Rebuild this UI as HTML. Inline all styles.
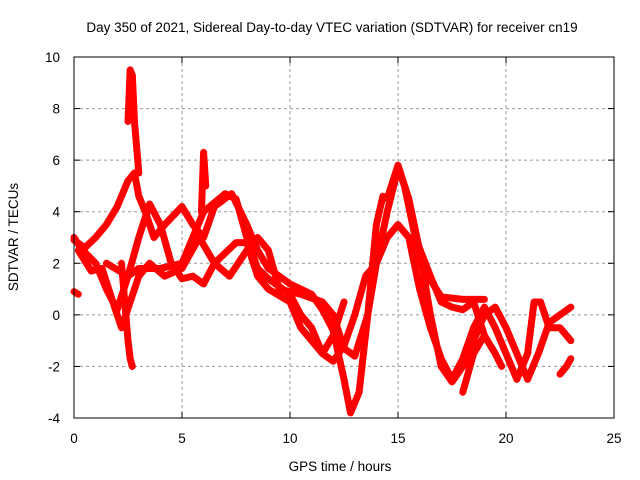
<!DOCTYPE html>
<html><head><meta charset="utf-8"><style>
body{margin:0;background:#fff;}
svg{display:block;font-family:"Liberation Sans",sans-serif;}
</style></head><body>
<svg id="chart" width="640" height="480">
<rect width="640" height="480" fill="#fff"/>
<text x="332" y="32" font-size="13.5" text-anchor="middle">Day 350 of 2021, Sidereal Day-to-day VTEC variation (SDTVAR) for receiver cn19</text>
<text x="340" y="471" font-size="13.5" text-anchor="middle">GPS time / hours</text>
<text transform="translate(18,237) rotate(-90)" font-size="13.5" text-anchor="middle">SDTVAR / TECUs</text>
<g id="grid"></g><g id="ticks"></g><g id="series"></g>
<rect x="74" y="57" width="540" height="361" fill="none" stroke="#000" stroke-width="1"/>
</svg>
<script>
const xTicks=[0,5,10,15,20,25];
const yTicks=[-4,-2,0,2,4,6,8,10];
const traceA=[[0,2.9],[0.5,2.6],[1,3],[1.5,3.5],[2,4.2],[2.5,5.2],[2.8,5.5],[3,4.6],[3.3,4],[3.7,3],[4.2,3.5],[5,4.2],[5.5,3.5],[6,3],[6.5,4.2],[7.3,4.7],[8,3.5],[8.5,2.5],[9,1.8],[10,1.2],[11,0.8],[11.5,0.2],[12,-0.6],[12.5,-2.5],[12.8,-3.8],[13.2,-3],[13.6,0],[14,3.5],[14.3,4.6]];
const traceA2=[[14.5,4.5],[15,5.8],[15.5,4.5],[16,2.5],[16.5,0],[17,-2],[17.5,-2.6],[18,-2],[18.5,-1],[19,0],[19.5,0.3],[20,-0.5],[20.5,-1.5],[21,-2.5],[21.5,-1.5],[22,-0.3],[23,0.3]];
const traceB=[[0,3],[0.3,2.6],[1,2],[1.5,1],[2,0.2],[2.5,1.5],[3,3],[3.5,4.3],[4,3.5],[4.5,2],[5,1.4],[5.5,1.5],[6,1.2],[6.5,2],[7,2.4],[7.5,2.8],[8,2.8],[8.5,1.5],[9,1],[10,0.5],[10.5,-0.5],[11,-1],[11.5,-1.5],[12,-1.8],[12.5,-1.2],[13,0],[13.5,1.5],[14,2],[14.5,3],[15,3.5],[15.5,3],[16,1],[16.5,-0.5],[17,-1.7],[17.5,-2.5],[18,-1.7],[18.5,-0.5],[19,0.3],[19.5,-0.5],[20,-1.5],[20.5,-2.5],[21,-1.5],[21.3,0.5],[21.6,0.5],[22,-0.5],[22.5,-0.5],[23,-1]];
const traceC=[[0.2,2.5],[0.8,1.7],[1.3,1.8],[1.8,0.5],[2.2,-0.5],[3,1.5],[3.5,2],[4.2,1.5],[5,1.8],[5.8,3],[6.5,2],[7.2,1.5],[8,2.5],[8.5,3],[9,2.5],[9.5,1],[10.5,0.8],[11.5,0.5],[12,0],[12.5,-1.3],[13,-1.6],[13.6,0],[14,2],[14.5,4],[14.8,5],[15,5.7],[15.3,5],[15.8,3],[16.5,1.5],[17,0.5],[17.5,0.3],[18,0.2],[18.5,0.5],[19,-0.8],[19.5,-1.5],[19.8,-2]];
const traceD=[[1.5,2],[2.5,1.5],[3,1.8],[4,1.8],[5,2],[5.5,3],[6,4],[7,4.7],[7.5,4.5],[8,3],[8.5,1.8],[9,1.4],[10,0.8],[10.5,0],[11,-0.5],[11.5,-1.5],[12,-0.8],[12.5,0.5]];
const traceE=[[15.5,3],[16,2],[17,0.7],[18,0.6],[19,0.6]];
const traceF=[[19,-0.8],[18.5,-1.5],[18,-3]];
const traceG=[[2.2,2],[2.5,-1],[2.6,-1.7],[2.7,-2]];
const spike1=[[2.5,7.5],[2.6,9.5],[2.7,9.3],[2.8,7.5],[3,5.5]];
const spike2=[[5.9,4],[6,6.3],[6.1,5]];
const seg1=[[0,0.9],[0.2,0.8]];
const seg2=[[22.5,-2.3],[22.8,-2],[23,-1.7]];
const allSeries=[traceA,traceA2,traceB,traceC,traceD,traceE,traceF,traceG,spike1,spike2,seg1,seg2];
const X=v=>74+v*540/25;
const Y=v=>57+(10-v)*361/14;
const NS="http://www.w3.org/2000/svg";
const grid=document.getElementById('grid'),ticks=document.getElementById('ticks'),ser=document.getElementById('series');
function mk(tag,attrs,parent){const e=document.createElementNS(NS,tag);for(const k in attrs)e.setAttribute(k,attrs[k]);parent.appendChild(e);return e;}
xTicks.forEach(t=>{
 if(t>0&&t<25){const g=mk('line',{x1:X(t),x2:X(t),y1:57,y2:418,stroke:'#999','stroke-dasharray':'3,3'},grid);
 
 }
 const l=mk('text',{x:X(t),y:443,'font-size':13.5,'text-anchor':'middle'},ticks);l.textContent=t;
 
 
 mk('line',{x1:X(t),x2:X(t),y1:418,y2:412,stroke:'#000'},ticks);
 mk('line',{x1:X(t),x2:X(t),y1:57,y2:63,stroke:'#000'},ticks);
});
yTicks.forEach(t=>{
 if(t>-4&&t<10){const g=mk('line',{x1:74,x2:614,y1:Y(t),y2:Y(t),stroke:'#999','stroke-dasharray':'3,3'},grid);
 
 }
 const l=mk('text',{x:60,y:Y(t)+5,'font-size':13.5,'text-anchor':'end'},ticks);l.textContent=t;
 
 
 mk('line',{x1:74,x2:80,y1:Y(t),y2:Y(t),stroke:'#000'},ticks);
 mk('line',{x1:614,x2:608,y1:Y(t),y2:Y(t),stroke:'#000'},ticks);
});
allSeries.forEach(s=>{
 const p=mk('polyline',{points:s.map(d=>X(d[0])+','+Y(d[1])).join(' '),fill:'none',stroke:'#f00','stroke-width':7,'stroke-linejoin':'round','stroke-linecap':'round'},ser);
 
 
});
</script>
</body></html>
